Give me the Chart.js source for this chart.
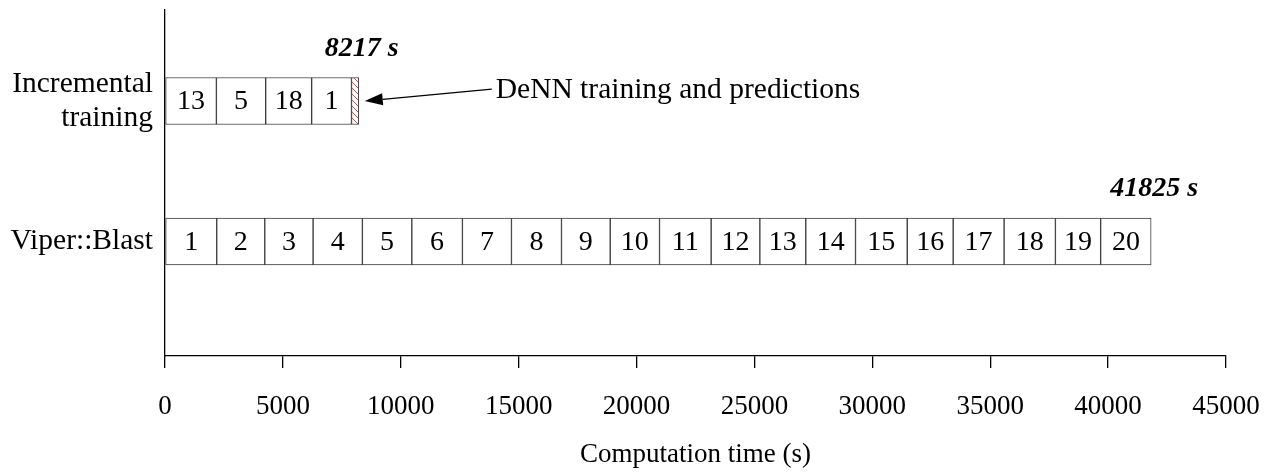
<!DOCTYPE html>
<html>
<head>
<meta charset="utf-8">
<script src="https://cdn.jsdelivr.net/npm/chart.js@4.4.1/dist/chart.umd.min.js"></script>
<style>
  html, body { margin: 0; padding: 0; background: #fff; }
  #wrap { width: 1273px; height: 472px; }
</style>
</head>
<body>
<div id="wrap"><canvas id="chart" width="1273" height="472"></canvas></div>
<script>
// Row names (multi-line where the label wraps)
const categories = [['Incremental', 'training'], 'Viper::Blast'];

// Incremental training: per-step times (s) and the step numbers printed in each box
const incrementalLabels = ['13', '5', '18', '1'];
const incrementalTimes = [2180, 2090, 1950, 1690];
// DeNN training and predictions (hatched tail of the incremental bar)
const dennTime = 307;

// Viper::Blast: per-run times (s) and run numbers
const viperLabels = ['1', '2', '3', '4', '5', '6', '7', '8', '9', '10',
                     '11', '12', '13', '14', '15', '16', '17', '18', '19', '20'];
const viperTimes = [2194, 2037, 2049, 2092, 2096, 2147, 2079, 2122, 2066, 2092,
                    2189, 2066, 1948, 2109, 2194, 1948, 2160, 2177, 1918, 2142];

// X axis tick values (s)
const xTicks = [0, 5000, 10000, 15000, 20000, 25000, 30000, 35000, 40000, 45000];

const noteText = 'DeNN training and predictions';
const axisTitle = 'Computation time (s)';

const SERIF = '"Liberation Serif", "Times New Roman", serif';

// Red diagonal hatch for the DeNN segment
function makeHatch() {
  const c = document.createElement('canvas');
  c.width = 6; c.height = 6;
  const g = c.getContext('2d');
  g.fillStyle = '#fff';
  g.fillRect(0, 0, 6, 6);
  g.strokeStyle = '#e8453c';
  g.lineWidth = 1;
  g.beginPath();
  g.moveTo(-1, -1); g.lineTo(7, 7);
  g.moveTo(-1, 5); g.lineTo(1, 7);
  g.moveTo(5, -1); g.lineTo(7, 1);
  g.stroke();
  return g.createPattern(c, 'repeat');
}

const segmentStyle = {
  borderColor: '#3c3c3c',
  borderWidth: 1,
  borderSkipped: false,
  barThickness: 47,
  stack: 'time'
};

const datasets = [];
incrementalTimes.forEach((v, i) => datasets.push(Object.assign({
  data: [{ x: v, y: 0 }], segLabel: incrementalLabels[i], backgroundColor: '#fff'
}, segmentStyle)));
datasets.push(Object.assign({
  data: [{ x: dennTime, y: 0 }], segLabel: '', backgroundColor: makeHatch(), isDenn: true
}, segmentStyle));
viperTimes.forEach((v, i) => datasets.push(Object.assign({
  data: [{ x: v, y: 1 }], segLabel: viperLabels[i], backgroundColor: '#fff'
}, segmentStyle)));

const sum = a => a.reduce((s, v) => s + v, 0);
const totals = [sum(incrementalTimes) + dennTime, sum(viperTimes)];

// Numbers inside each box, totals above each bar, and the DeNN callout
const annotate = {
  id: 'annotate',
  afterDatasetsDraw(chart) {
    const ctx = chart.ctx;
    const xs = chart.scales.x;
    ctx.save();
    ctx.fillStyle = '#000';
    ctx.textAlign = 'center';
    ctx.textBaseline = 'middle';
    ctx.font = '28px ' + SERIF;
    const barTop = [null, null];
    let dennEl = null;
    chart.data.datasets.forEach((ds, di) => {
      const meta = chart.getDatasetMeta(di);
      meta.data.forEach((el, j) => {
        const row = ds.data[j].y;
        barTop[row] = el.y - el.height / 2;
        if (ds.isDenn) dennEl = el;
        if (ds.segLabel) ctx.fillText(ds.segLabel, (el.x + el.base) / 2, el.y + 1);
      });
    });

    // totals
    ctx.font = 'italic bold 28px ' + SERIF;
    totals.forEach((t, r) => {
      ctx.fillText(t + ' s', xs.getPixelForValue(t) + 3, barTop[r] - 29);
    });

    // callout arrow pointing at the DeNN segment
    if (dennEl) {
      const tipX = dennEl.x + 6, tipY = dennEl.y;
      const tailX = tipX + 127, tailY = tipY - 12;
      const ang = Math.atan2(tailY - tipY, tailX - tipX);
      const len = 18, half = 6;
      const bx = tipX + Math.cos(ang) * len, by = tipY + Math.sin(ang) * len;
      ctx.strokeStyle = '#000';
      ctx.lineWidth = 1.3;
      ctx.beginPath();
      ctx.moveTo(bx, by);
      ctx.lineTo(tailX, tailY);
      ctx.stroke();
      ctx.beginPath();
      ctx.moveTo(tipX, tipY);
      ctx.lineTo(bx - Math.sin(ang) * half, by + Math.cos(ang) * half);
      ctx.lineTo(bx + Math.sin(ang) * half, by - Math.cos(ang) * half);
      ctx.closePath();
      ctx.fill();
      ctx.font = '29.5px ' + SERIF;
      ctx.textAlign = 'left';
      ctx.fillText(noteText, tailX + 4, tailY + 1);
    }
    ctx.restore();
  }
};

new Chart(document.getElementById('chart'), {
  type: 'bar',
  data: { datasets },
  options: {
    indexAxis: 'y',
    responsive: false,
    animation: false,
    devicePixelRatio: 1,
    layout: { padding: { top: 10, right: 47, bottom: 0, left: 0 } },
    plugins: { legend: { display: false }, tooltip: { enabled: false } },
    scales: {
      x: {
        type: 'linear',
        stacked: true,
        min: 0,
        max: 45000,
        afterBuildTicks: s => { s.ticks = xTicks.map(v => ({ value: v })); },
        afterFit: s => { s.height = 116; s.paddingLeft = 0; s.paddingRight = 0; },
        grid: { drawOnChartArea: false, drawTicks: true, tickLength: 12, color: '#000', lineWidth: 1.3 },
        border: { display: true, color: '#000', width: 1.3 },
        ticks: {
          color: '#000', font: { family: SERIF, size: 27 }, padding: 23,
          maxRotation: 0, autoSkip: false, callback: v => String(v)
        },
        title: { display: true, text: axisTitle, color: '#000', font: { family: SERIF, size: 27 }, padding: { top: 0, bottom: 1 } }
      },
      y: {
        type: 'linear',
        stacked: true,
        reverse: true,
        offset: false,
        min: -0.648,
        max: 1.815,
        afterBuildTicks: s => { s.ticks = categories.map((c, i) => ({ value: i })); },
        afterFit: s => { s.width = 165; s.paddingTop = 0; s.paddingBottom = 0; },
        grid: { display: false, drawTicks: false },
        border: { display: true, color: '#000', width: 1.3 },
        ticks: {
          color: '#000',
          padding: 12,
          font: { family: SERIF, size: 29.5, lineHeight: 1.15 },
          callback: v => categories[v]
        }
      }
    }
  },
  plugins: [annotate]
});
</script>
</body>
</html>
